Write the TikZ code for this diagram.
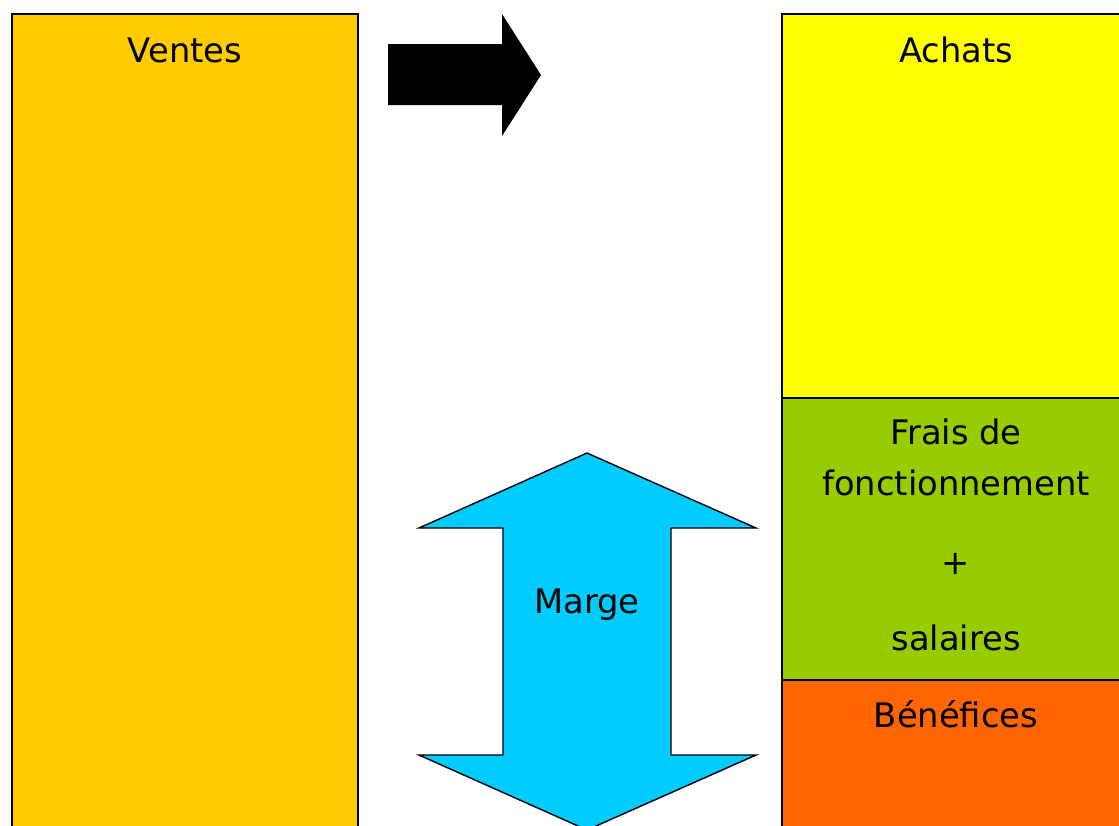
\documentclass[tikz,border=0pt]{standalone}
\usepackage{fontspec}
\setmainfont{DejaVu Sans}
\usepackage{xcolor}
\usetikzlibrary{positioning}
\usetikzlibrary{calc}
\definecolor{jauneventes}{HTML}{FFCC00}
\definecolor{jauneachats}{HTML}{FFFF00}
\definecolor{vertfrais}{HTML}{99CC00}
\definecolor{orangebenef}{HTML}{FF6600}
\definecolor{bleumarge}{HTML}{00CCFF}

\begin{document}
\begin{tikzpicture}[
  x=0.025cm, y=-0.025cm,
  font=\fontsize{24}{35.6}\selectfont,
  bloc/.style={draw, line width=1.4pt, inner sep=0pt, outer sep=0pt, anchor=north west},
  titre/.style={anchor=base, inner sep=0pt, align=center},
  fleche/.style={draw, line width=1pt, line join=miter}
]
\clip (0,0) rectangle (1119,825);
\fill[white] (0,0) rectangle (1119,825);

\node[bloc, fill=jauneventes, minimum width=8.65cm, minimum height=20.8cm] (ventes) at (12,14) {};
\node[bloc, fill=jauneachats, minimum width=8.7cm, minimum height=9.6cm] (achats) at (782,14) {};
\node[bloc, fill=vertfrais, minimum width=8.7cm, minimum height=7.05cm, below=0pt of achats] (frais) {};
\node[bloc, fill=orangebenef, minimum width=8.7cm, minimum height=4.2cm, below=0pt of frais] (benefices) {};

\node[titre] (tventes) at ($(ventes.north)+(0,48)$) {Ventes};
\node[titre] (tachats) at ($(achats.north)+(0,48)$) {Achats};
% base = derniere ligne
\node[titre] (tfrais) at ($(frais.north)+(0,252)$) {Frais de\\fonctionnement\\[20.6pt]+\\[18.5pt]salaires};
\node[titre] (tbenef) at ($(benefices.north)+(0,47)$) {Bénéfices};

% fleche noire
\fill[black] (388,44) -- (502,44) -- (502,14) -- (541,75) -- (502,136) -- (502,105) -- (388,105) -- cycle;

% double fleche
\draw[fleche, fill=bleumarge] (587,453) -- (756,528) -- (671,528) -- (671,755) -- (756,755) -- (587,830)
  -- (419,755) -- (503,755) -- (503,528) -- (419,528) -- cycle;
\node[titre] (marge) at (587,613) {Marge};

\end{tikzpicture}
\end{document}
